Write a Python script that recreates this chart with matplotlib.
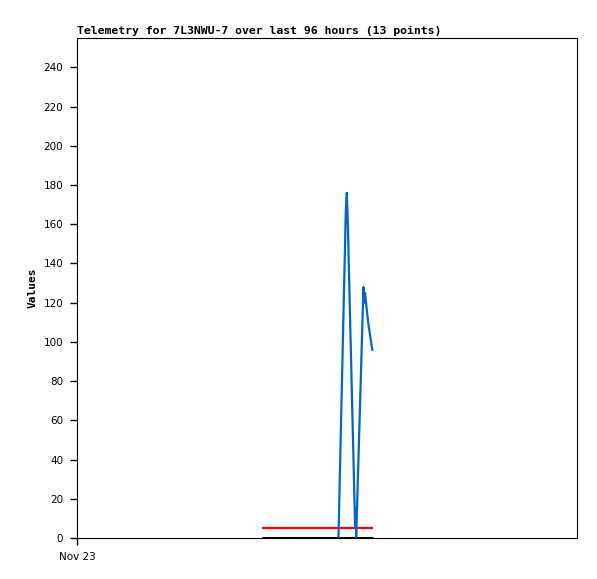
import matplotlib
matplotlib.use('Agg')
import matplotlib.pyplot as plt

# hours since Nov 23 00:00
horas = [50.2, 51.6, 51.8, 52.0, 53.4, 53.5, 53.6, 55.0, 55.2, 55.3, 55.9, 56.35, 56.7]
valores = [0, 166, 176, 160, 5, 15, 0, 128, 120, 125, 110, 102, 96]

rango_ref = [35.5, 56.8]
limite_rojo = 5
limite_negro = 0

fig = plt.figure(figsize=(5.97, 5.79), dpi=100)
ax = fig.add_axes([77 / 597, 41 / 579, 500 / 597, 500 / 579])

ax.plot(rango_ref, [limite_negro, limite_negro], color='black', lw=2.2, solid_capstyle='butt')
ax.plot(rango_ref, [limite_rojo, limite_rojo], color='#ff0000', lw=1.6, solid_capstyle='butt')
ax.plot(horas, valores, color='#0066cc', lw=1.6)

ax.set_xlim(0, 96)
ax.set_ylim(0, 255)
ax.set_yticks(range(0, 241, 20))
ax.set_xticks([0])
ax.set_xticklabels(['Nov 23'])
ax.tick_params(axis='both', direction='out', length=5, width=1, labelsize=7.5, pad=5)
for lbl in ax.get_yticklabels() + ax.get_xticklabels():
    lbl.set_family('DejaVu Sans')

ax.set_ylabel('Values', fontsize=8, fontweight='bold', family='DejaVu Sans Mono', labelpad=4)
ax.set_title('Telemetry for 7L3NWU-7 over last 96 hours (13 points)', loc='left',
             fontsize=8.25, fontweight='bold', family='DejaVu Sans Mono', pad=3)

fig.savefig('out.png', dpi=100)
